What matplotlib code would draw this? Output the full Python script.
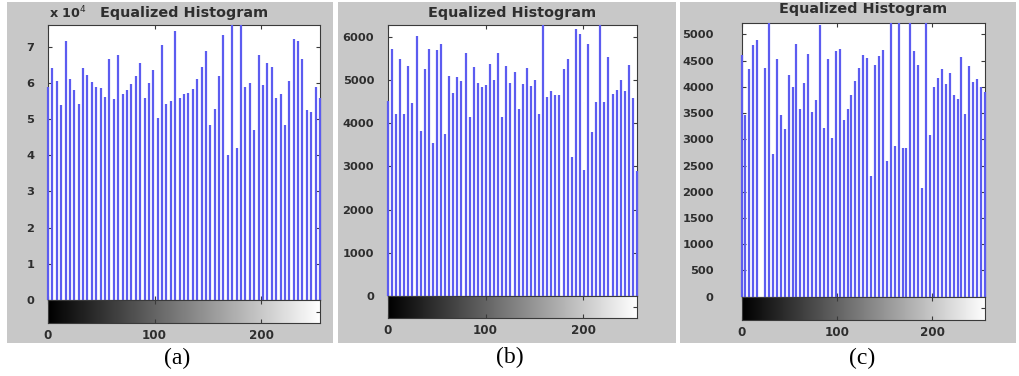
import numpy as np
import matplotlib
matplotlib.use("Agg")
import matplotlib.pyplot as plt
from matplotlib.patches import Rectangle
from matplotlib.ticker import FuncFormatter

# ---------------- data ----------------
# Panel (a): equalized histogram counts (clipped stems estimated above the axis top)
counts_a = [58900, 64200, 60500, 53900, 71500, 61000, 58000, 54300, 64200, 62200,
            60300, 58800, 58700, 56000, 66600, 55500, 67700, 57000, 58000, 59600,
            62000, 65600, 55800, 59900, 63700, 50200, 70400, 54300, 55000, 74300,
            55900, 56800, 57100, 58300, 61000, 64500, 68900, 48500, 52800, 61900,
            73200, 40100, 79000, 41900, 79000, 59000, 60000, 47100, 67600, 59500,
            65400, 64500, 55900, 56900, 48500, 60600, 72100, 71700, 66500, 52600,
            52000, 59000, 55700]
# Panel (b)
counts_b = [4516, 5705, 4213, 5487, 4213, 5332, 4454, 6015, 3817, 5262,
            5705, 3545, 5682, 5837, 3747, 5083, 4695, 5060, 4967, 5611,
            4135, 5301, 4928, 4834, 4889, 5378, 5005, 5627, 4150, 5316,
            4928, 5184, 4329, 4904, 5277, 4866, 4990, 4213, 6500, 4594,
            4749, 4656, 4656, 5254, 5472, 3218, 6171, 6054, 2923, 5837,
            3801, 4485, 6500, 4477, 5534, 4671, 4757, 5005, 4733, 5339,
            4578, 2884]
# Panel (c): NaN = empty grey level
counts_c = [4600, 3459, 4347, 4803, 4886, np.nan, 4366, 5400, 2711, 4537,
            3472, 3193, 4233, 3998, 4822, 3586, 4074, 4632, 3522, 3757,
            5184, 3218, 4524, 3028, 4677, 4727, 3377, 3573, 3840, 4106,
            4366, 4613, 4556, 2305, 4423, 4582, 4696, 2590, 5400, 2869,
            5400, 2825, 2838, 5400, 4677, 4423, 2077, 5400, 3079, 3998,
            4169, 4347, 4061, 4271, 3840, 3776, 4569, 3491, 4391, 4093,
            4157, 3998, 3903]

ylim_top = [76000, 6270, 5222]
yticks_a = [0, 10000, 20000, 30000, 40000, 50000, 60000, 70000]
yticks_b = [0, 1000, 2000, 3000, 4000, 5000, 6000]
yticks_c = [0, 500, 1000, 1500, 2000, 2500, 3000, 3500, 4000, 4500, 5000]
xticks = [0, 100, 200]
title_text = "Equalized Histogram"
panel_labels = ["(a)", "(b)", "(c)"]

# ---------------- layout (pixels) ----------------
W, H = 1019, 376
fig = plt.figure(figsize=(W / 100, H / 100), dpi=100)
fig.patch.set_facecolor("white")

def fx(x):
    return x / W

def fy(y):
    return 1 - y / H

GRAY = "#c8c8c8"
STEM = "#5c5cf0"
EDGE = "#3a3a3a"
TXT = "#2e2e2e"

layout = [
    dict(gray=(7, 2, 333, 343), ax=(48, 25, 320, 300), cb=323, title_y=12.5, ypad=10.0, label=(177, 358)),
    dict(gray=(338, 2, 676, 343), ax=(388, 25, 637, 296), cb=318, title_y=13.0, ypad=10.0, label=(510, 357)),
    dict(gray=(680, 2, 1016, 343), ax=(741.5, 22.7, 985, 296.7), cb=320, title_y=9.5, ypad=20.0, label=(862, 358)),
]

data = [counts_a, counts_b, counts_c]
yticks = [yticks_a, yticks_b, yticks_c]
fmts = [lambda v, p: f"{v/10000:g}", lambda v, p: f"{v:g}", lambda v, p: f"{v:g}"]

grad = np.linspace(0, 1, 256)[None, :]

for i, L in enumerate(layout):
    gx0, gy0, gx1, gy1 = L["gray"]
    fig.add_artist(Rectangle((fx(gx0), fy(gy1)), fx(gx1) - fx(gx0), (gy1 - gy0) / H,
                             transform=fig.transFigure, facecolor=GRAY, edgecolor="none", zorder=0))
    l, t, r, b = L["ax"]
    ax = fig.add_axes([fx(l), fy(b), fx(r) - fx(l), (b - t) / H])
    ax.set_facecolor("white")
    vals = np.asarray(data[i], dtype=float)
    xs = np.linspace(0, 255, len(vals))
    # stems that run off the top are cut at the axis top (as in the reference)
    ax.vlines(xs, 0, np.minimum(vals, ylim_top[i]), color=STEM, lw=1.6, clip_on=False, zorder=3)
    ax.set_xlim(0, 255)
    ax.set_ylim(0, ylim_top[i])
    ax.set_xticks(xticks)
    ax.set_yticks(yticks[i])
    ax.yaxis.set_major_formatter(FuncFormatter(fmts[i]))
    ax.tick_params(direction="in", length=3, width=0.8, color=EDGE, top=True, right=True,
                   labelbottom=False, labelsize=8.2, labelcolor=TXT, pad=L["ypad"])
    for lab in ax.get_yticklabels():
        lab.set_fontweight("bold")
    for s in ax.spines.values():
        s.set_color(EDGE)
        s.set_linewidth(0.8)

    # grey-level colour bar below
    cb_top, cb_bot = b, L["cb"]
    cax = fig.add_axes([fx(l), fy(cb_bot), fx(r) - fx(l), (cb_bot - cb_top) / H])
    cax.imshow(grad, aspect="auto", cmap="gray", extent=[0, 255, 0, 1], interpolation="bilinear")
    cax.set_xlim(0, 255)
    cax.set_ylim(0, 1)
    cax.set_xticks(xticks)
    cax.set_yticks([0.5])
    cax.tick_params(axis="x", direction="in", length=3, width=0.8, color=EDGE, top=True,
                    labelsize=8.6, labelcolor=TXT, pad=4)
    cax.tick_params(axis="y", direction="in", length=3, width=0.8, color=EDGE, left=False,
                    right=True, labelleft=False)
    for lab in cax.get_xticklabels():
        lab.set_fontweight("bold")
    for s in cax.spines.values():
        s.set_color(EDGE)
        s.set_linewidth(0.8)

    # title
    fig.text(fx((l + r) / 2), fy(L["title_y"]), title_text, ha="center", va="center",
             fontsize=10.4, fontweight="bold", color=TXT)
    # panel label
    fig.text(fx(L["label"][0]), fy(L["label"][1]), panel_labels[i], ha="center", va="center",
             fontsize=17, family="Liberation Serif", color="black")

# exponent marker for panel (a)
fig.text(fx(49), fy(12.5), r"x 10$^{4}$", ha="left", va="center", fontsize=9.2,
         fontweight="bold", color=TXT)

fig.savefig("out.png", dpi=100, facecolor="white")
